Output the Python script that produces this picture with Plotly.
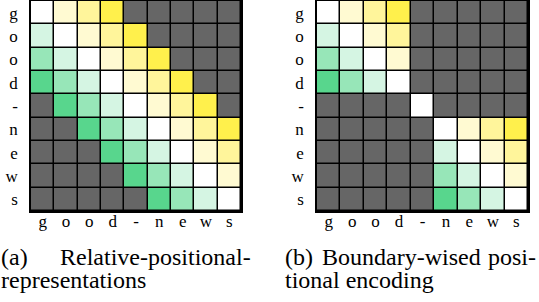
import plotly.graph_objects as go

tokens = ["g", "o", "o", "d", "-", "n", "e", "w", "s"]
G = 4  # masked (no relation) cell code

# relative distance codes, -3..3, G = masked
relative_matrix = [
    [0, 1, 2, 3, G, G, G, G, G],
    [-1, 0, 1, 2, 3, G, G, G, G],
    [-2, -1, 0, 1, 2, 3, G, G, G],
    [-3, -2, -1, 0, 1, 2, 3, G, G],
    [G, -3, -2, -1, 0, 1, 2, 3, G],
    [G, G, -3, -2, -1, 0, 1, 2, 3],
    [G, G, G, -3, -2, -1, 0, 1, 2],
    [G, G, G, G, -3, -2, -1, 0, 1],
    [G, G, G, G, G, -3, -2, -1, 0],
]
boundary_matrix = [
    [0, 1, 2, 3, G, G, G, G, G],
    [-1, 0, 1, 2, G, G, G, G, G],
    [-2, -1, 0, 1, G, G, G, G, G],
    [-3, -2, -1, 0, G, G, G, G, G],
    [G, G, G, G, 0, G, G, G, G],
    [G, G, G, G, G, 0, 1, 2, 3],
    [G, G, G, G, G, -1, 0, 1, 2],
    [G, G, G, G, G, -2, -1, 0, 1],
    [G, G, G, G, G, -3, -2, -1, 0],
]

code_colors = ["#58D68D", "#97E6B8", "#D5F5E3", "#FFFFFF",
               "#FFFAD2", "#FFF59B", "#FFF04C", "#666666"]

n = len(code_colors)
colorscale = []
for k, c in enumerate(code_colors):
    colorscale.append([k / n, c])
    colorscale.append([(k + 1) / n, c])

idx = list(range(len(tokens)))
serif = "Liberation Serif, Times New Roman, serif"

fig = go.Figure()
for i, (mat, xa, ya) in enumerate([(relative_matrix, "x", "y"), (boundary_matrix, "x2", "y2")]):
    fig.add_trace(go.Heatmap(
        z=mat, x=idx, y=idx, xaxis=xa, yaxis=ya,
        colorscale=colorscale, zmin=-3.5, zmax=4.5, showscale=False,
        xgap=1.5, ygap=1.5, hoverinfo="skip",
    ))

W, H = 539, 302
ax_common = dict(tickmode="array", tickvals=idx, ticktext=tokens, ticks="",
                 showgrid=False, zeroline=False, showline=True, linecolor="black",
                 linewidth=1.5, mirror=True, tickfont=dict(family=serif, size=17, color="black"),
                 fixedrange=True, automargin=False)
ydom = [1 - 211 / H, 1 - 1 / H]
fig.update_layout(
    width=W, height=H, margin=dict(l=0, r=0, t=0, b=0, autoexpand=False),
    paper_bgcolor="white", plot_bgcolor="black", showlegend=False,
    xaxis=dict(domain=[31 / W, 241 / W], range=[-0.5, 8.5], ticklabelstandoff=-6, **ax_common),
    yaxis=dict(domain=ydom, range=[8.5, -0.5], anchor="x", ticklabelstandoff=8, **ax_common),
    xaxis2=dict(domain=[317 / W, 528 / W], range=[-0.5, 8.5], anchor="y2", ticklabelstandoff=-6, **ax_common),
    yaxis2=dict(domain=ydom, range=[8.5, -0.5], anchor="x2", ticklabelstandoff=8, **ax_common),
)

cap_font = dict(family=serif, size=24, color="black")
def cap(text, x, y, xanchor):
    fig.add_annotation(text=text, x=x / W, y=1 - y / H, xref="paper", yref="paper",
                       xanchor=xanchor, yanchor="middle", showarrow=False, font=cap_font,
                       borderpad=0)

cap("(a)", 0, 257, "left")
cap("Relative-positional-", 252, 257, "right")
cap("representations", 0, 280, "left")
cap("(b)", 284, 257, "left")
cap("Boundary-wised", 321, 257, "left")
cap("posi-", 537, 257, "right")
cap("tional encoding", 284, 280, "left")

fig.write_html("out.html",
               config={"displayModeBar": False},
               post_script="document.body.style.margin='0';document.body.style.padding='0';"
                           "document.body.style.overflow='hidden';")
